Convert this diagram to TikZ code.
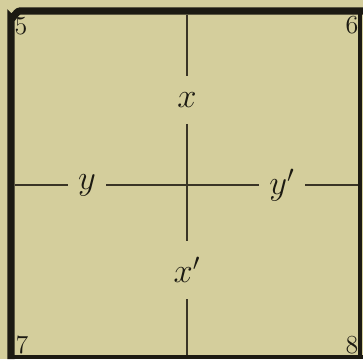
\documentclass[tikz,border=0pt]{standalone}
\usepackage{xcolor}
\usepackage{tikz}
\usetikzlibrary{positioning}
\definecolor{paper}{HTML}{D4CE9C}
\definecolor{ink}{HTML}{1C1A12}
\definecolor{rule}{HTML}{3A3526}

\begin{document}
\begin{tikzpicture}[x=0.5pt, y=-0.5pt, every node/.style={text=ink}, num/.style={font=\fontsize{13}{15}\selectfont, inner sep=0pt}, lab/.style={font=\fontsize{18}{21}\selectfont, inner xsep=5pt, inner ysep=8pt}, axis/.style={rule, line width=0.7pt}, frame/.style={ink, line cap=butt}]
\fill[paper] (0,0) rectangle (363,359);
\useasboundingbox (0,0) rectangle (363,359);
% heavy border
\draw[frame, line width=3.6pt] (11,359) -- (11,18) to[out=-90,in=180] (20,11) -- (363,11);
\draw[frame, line width=2.4pt] (360,11) -- (360,359);
\draw[frame, line width=1.8pt] (8,357) -- (363,357);
\node[num] (c5) at (21,26) {5};\node[num] (c6) at (352,25) {6};\node[num] (c7) at (22,345) {7};\node[num] (c8) at (352,345) {8};
% axes
\coordinate (top) at (187,15);\coordinate (bot) at (187,355);\coordinate (lft) at (15,185);\coordinate (rgt) at (358,185);
\node[lab] (x) at (187,100) {$x$};\node[lab] (xp) at (187,270) {$x'$};
\node[lab] (y) at (87,185) {$y$};\node[lab] (yp) at (282,185) {$y'$};
\draw[axis] (top)--(x);\draw[axis] (x)--(xp);\draw[axis] (xp)--(bot);
\draw[axis] (lft)--(y);\draw[axis] (y)--(yp);\draw[axis] (yp)--(rgt);
\end{tikzpicture}
\end{document}
